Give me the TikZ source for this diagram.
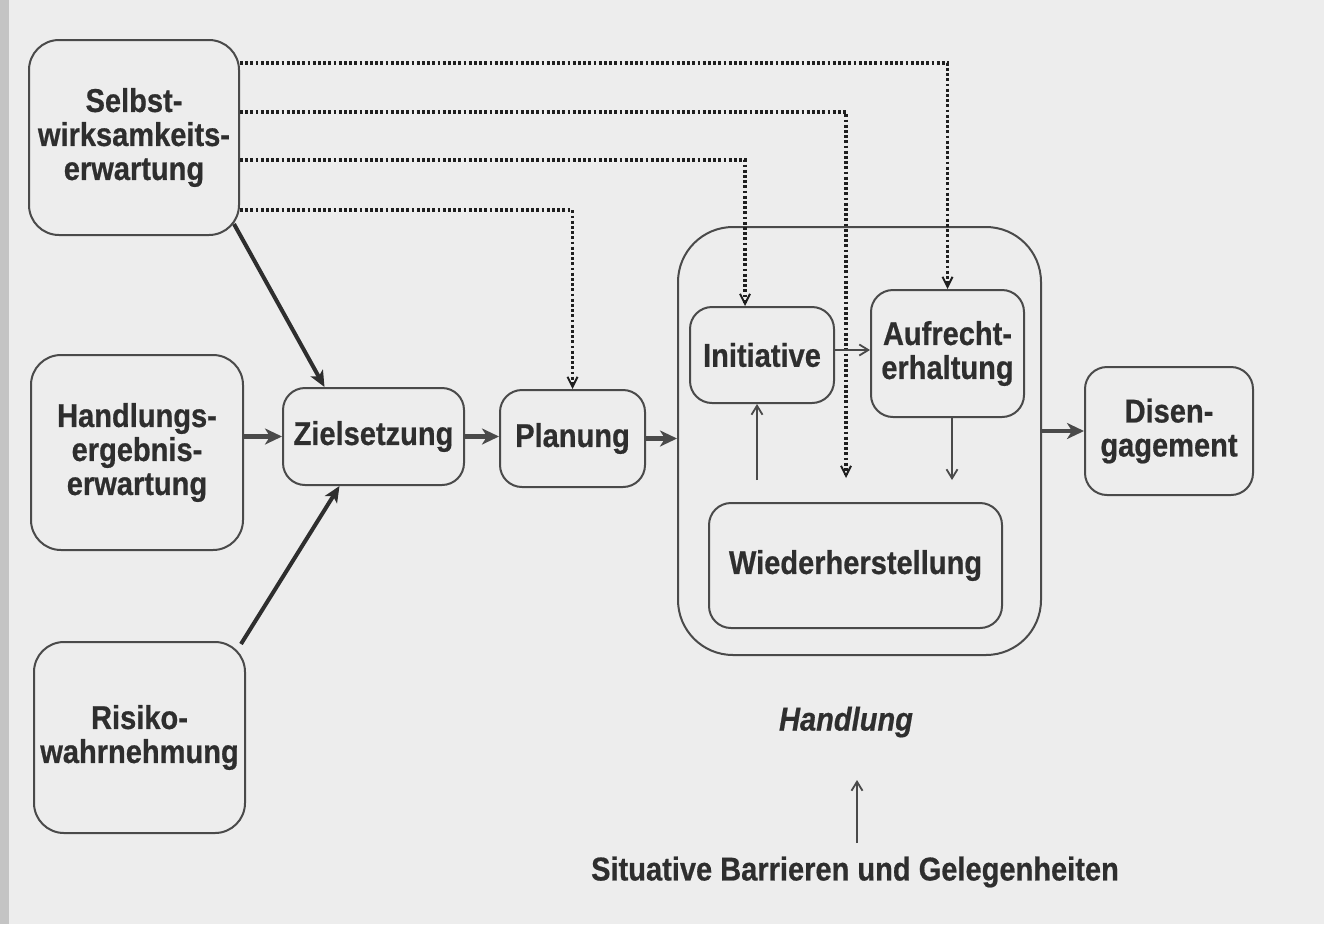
\documentclass[tikz,border=0pt]{standalone}
\usepackage{fontspec}
\setmainfont{Liberation Sans}[FakeStretch=0.88,FakeBold=0.6]
\usetikzlibrary{arrows.meta,calc}
\definecolor{paper}{HTML}{EDEDED}
\definecolor{ink}{HTML}{2E2E2E}
\definecolor{edge}{HTML}{4A4A4A}
\definecolor{strip}{HTML}{C4C4C4}
\begin{document}
\begin{tikzpicture}[x=1pt,y=-1pt,
  box/.style={draw=edge,line width=2pt,rounded corners=22pt,inner sep=0pt,align=center,
    font=\fontsize{33}{34}\selectfont\bfseries,text=ink},
  bigbox/.style={box,rounded corners=55pt},
  lbl/.style={inner sep=0pt,font=\fontsize{33}{34}\selectfont\bfseries,text=ink},
  thickarr/.style={draw=edge,line width=4.5pt,-{Stealth[length=17pt,width=16pt,inset=5pt]}},
  thinarr/.style={draw=edge,line width=1.8pt,-{Straight Barb[length=9pt,width=11pt]}},
  dotarr/.style={draw=black!88,line width=3.6pt,dash pattern=on 2.8pt off 2.4pt,
    -{Straight Barb[length=10pt,width=10pt,line width=2pt]}},
  solidline/.style={draw=ink,line width=4pt,-{Stealth[length=16pt,width=14pt,inset=4pt]}}
]
\useasboundingbox (0,0) rectangle (1324,924);
\fill[paper] (0,0) rectangle (1324,924);
\fill[strip] (0,0) rectangle (9,924);

% nodes
\node[box,minimum width=210pt,minimum height=195pt,rounded corners=30pt] (selbst) at (134,137.5)
  {Selbst-\\wirksamkeits-\\erwartung};
\node[box,minimum width=212pt,minimum height=195pt,rounded corners=30pt] (hand) at (137,452.5)
  {Handlungs-\\ergebnis-\\erwartung};
\node[box,minimum width=211pt,minimum height=191pt,rounded corners=30pt] (risiko) at (139.5,737.5)
  {Risiko-\\wahrnehmung};
\node[box,minimum width=181pt,minimum height=97pt] (ziel) at (373.5,436.5) {Zielsetzung};
\node[box,minimum width=145pt,minimum height=97pt] (plan) at (572.5,438.5) {Planung};
\node[bigbox,minimum width=363pt,minimum height=428pt] (big) at (859.5,441) {};
\node[box,minimum width=144pt,minimum height=96pt] (init) at (762,355) {Initiative};
\node[box,minimum width=153pt,minimum height=127pt] (aufr) at (947.5,353.5) {Aufrecht-\\erhaltung};
\node[box,minimum width=293pt,minimum height=125pt] (wieder) at (855.5,565.5) {Wiederherstellung};
\node[box,minimum width=168pt,minimum height=128pt] (disen) at (1169,431) {Disen-\\gagement};
\node[lbl,font=\fontsize{33}{34}\selectfont\bfseries\itshape] (hlab) at (846,722) {Handlung};
\node[lbl] (sit) at (855,872) {Situative Barrieren und Gelegenheiten};

% free ends
\coordinate (mid) at (846,478);
\coordinate (wa) at (757,480);
\coordinate (ab) at (952,480);
\coordinate (sa) at (857,843);
\coordinate (st) at (857,780);
\coordinate (ia) at ([yshift=5pt]init.east);

% dotted connectors
\draw[dotarr] (selbst.east |- 0,63) -| (aufr.north);
\draw[dotarr] (selbst.east |- 0,112) -| (mid);
\draw[dotarr] (selbst.east |- 0,160) -| ([xshift=-17pt]init.north);
\draw[dotarr] (selbst.east |- 0,210) -| (plan.north);

% thick arrows
\draw[solidline] ([shift={(-6,-12)}]selbst.south east) -- ([xshift=-49pt]ziel.north);
\draw[solidline] ([shift={(-5,3)}]risiko.north east) -- ([xshift=-34pt]ziel.south);
\draw[thickarr] (hand.east |- ziel.west) -- (ziel.west);
\draw[thickarr] (ziel.east) -- (plan.west |- ziel.east);
\draw[thickarr] (plan.east) -- (big.west |- plan.east);
\draw[thickarr] (big.east |- disen.west) -- (disen.west);

% thin arrows
\draw[thinarr] (ia) -- (aufr.west |- ia);
\draw[thinarr] (wa) -- (wa |- init.south);
\draw[thinarr] (aufr.south -| ab) -- (ab);
\draw[thinarr] (sa) -- (st);
\end{tikzpicture}
\end{document}
